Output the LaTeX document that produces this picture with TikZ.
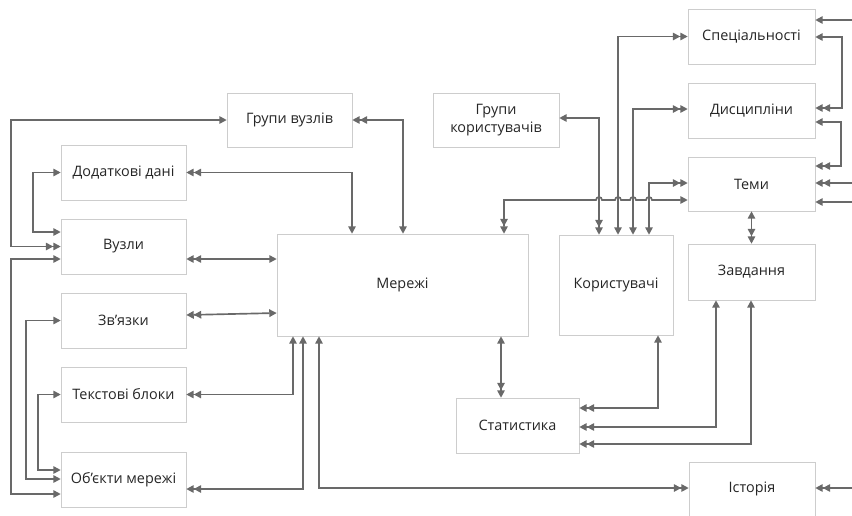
\documentclass[tikz,border=0pt]{standalone}
\usepackage{fontspec}
\setmainfont{Open Sans}
\usetikzlibrary{arrows.meta, positioning, shadows}
\definecolor{lgray}{RGB}{105,105,105}
\definecolor{bgray}{RGB}{205,205,205}

\begin{document}
\begin{tikzpicture}[x=0.75pt, y=-0.75pt,
  box/.style={draw=bgray, fill=white, font=\fontsize{10.8}{13.5}\selectfont,
              text=black!85, align=center, inner sep=1pt,
              drop shadow={shadow xshift=1.1pt, shadow yshift=-1.1pt, fill=black!15, opacity=1}},
  wh/.style 2 args={minimum width=#1*0.75pt, minimum height=#2*0.75pt},
  conn/.style={draw=lgray, line width=1.25pt},
  >={Triangle[length=5.6pt, width=5.6pt]}
]
\useasboundingbox (0,0) rectangle (852,515);

% ── left column ─────────────────────────────────────────
\node[box, wh={125}{54}] (gv)  at (289.5,120)   {Групи вузлів};
\node[box, wh={125}{55}] (dod) at (123.5,172.5) {Додаткові дані};
\node[box, wh={125}{55}] (vuz) at (123.5,246.5) {Вузли};
\node[box, wh={125}{55}] (zv)  at (123.5,320.5) {Зв’язки};
\node[box, wh={125}{55}] (tb)  at (123.5,394.5) {Текстові блоки};
\node[box, wh={125}{55}] (ob)  at (123.5,479.5) {Об’єкти мережі};
\node[box, wh={251}{102}] (mer) at (402.5,285)  {Мережі};

% ── right part ──────────────────────────────────────────
\node[box, wh={126}{54}]  (gk)   at (496,120)   {Групи\\користувачів};
\node[box, wh={127}{55}]  (spec) at (751.5,36.5)  {Спеціальності};
\node[box, wh={127}{55}]  (dys)  at (751.5,110.5) {Дисципліни};
\node[box, wh={127}{54}]  (temy) at (751.5,184)   {Теми};
\node[box, wh={114}{100}] (kor)  at (616,285)   {Користувачі};
\node[box, wh={127}{56}]  (zavd) at (751.5,272)   {Завдання};
\node[box, wh={123}{55}]  (stat) at (517.5,425.5) {Статистика};
\node[box, wh={126}{54}]  (ist)  at (752,489)   {Історія};

% free ends at the right border
\coordinate (e1) at (852,20);
\coordinate (e2) at (852,183);
\coordinate (e3) at (852,202);
\coordinate (e4) at (852,488);

% ── left loops ──────────────────────────────────────────
\draw[conn,<->>] (gv.west) -| (11,246.5) -- (vuz.west);
\draw[conn,<->] (dod.west) -| (33,232) -- (vuz.west |- 0,232);
\draw[conn,<->] (vuz.west |- 0,259) -| (11,494) -- (ob.west |- 0,494);
\draw[conn,<->] (zv.west) -| (26,479) -- (ob.west |- 0,479);
\draw[conn,<->] (tb.west) -| (38,470) -- (ob.west |- 0,470);

% ── into Мережі ─────────────────────────────────────────
\draw[conn,<<->] (dod.east) -| (mer.north -| 352,0);
\draw[conn,<<->] (gv.east) -| (mer.north -| 403,0);
\draw[conn,<<->] (vuz.east |- 0,259) -- (mer.west |- 0,259);
\draw[conn,<<->] (zv.east |- 0,315) -- (mer.west |- 0,313);
\draw[conn,<<->] (tb.east) -| (mer.south -| 293,0);
\draw[conn,<<->] (ob.east |- 0,489) -| (mer.south -| 303,0);
\draw[conn,<->>] (mer.south -| 319,0) |- (ist.west |- 0,488);
\draw[conn,->>] (e4) -- (ist.east |- e4);
\draw[conn,<->>] (mer.south -| 501,0) -- (stat.north -| 501,0);

% ── Користувачі ─────────────────────────────────────────
\draw[conn,<->>] (gk.east |- 0,118) -| (kor.north -| 599,0);
\draw[conn,<<->] (spec.west) -| (kor.north -| 618,0);
\draw[conn,<<->] (dys.west |- 0,109) -| (kor.north -| 633,0);
\draw[conn,<<->] (temy.west |- 0,183) -| (kor.north -| 649,0);
\draw[conn,<<->] (mer.north -| 504,0) -- (504,200) -- (596,200)
  arc[start angle=180, end angle=360, radius=3] -- (615,200)
  arc[start angle=180, end angle=360, radius=3] -- (630,200)
  arc[start angle=180, end angle=360, radius=3] -- (646,200)
  arc[start angle=180, end angle=360, radius=3] -- (temy.west |- 0,200);

% ── right border ────────────────────────────────────────
\draw[conn,->] (e1) -- (spec.east |- e1);
\draw[conn,<->>] (spec.east |- 0,37) -- (842,37) |- (dys.east |- 0,108);
\draw[conn,<->>] (dys.east |- 0,122) -- (841,122) |- (temy.east |- 0,166);
\draw[conn,->>] (e2) -- (temy.east |- e2);
\draw[conn,->] (e3) -- (temy.east |- e3);

% ── Статистика ──────────────────────────────────────────
\draw[conn,<->>] (temy.south) -- (zavd.north);
\draw[conn,<->>] (kor.south -| 658,0) |- (stat.east |- 0,408);
\draw[conn,<->>] (zavd.south -| 716,0) |- (stat.east |- 0,427);
\draw[conn,<->>] (zavd.south -| 751,0) |- (stat.east |- 0,444);

\end{tikzpicture}
\end{document}
